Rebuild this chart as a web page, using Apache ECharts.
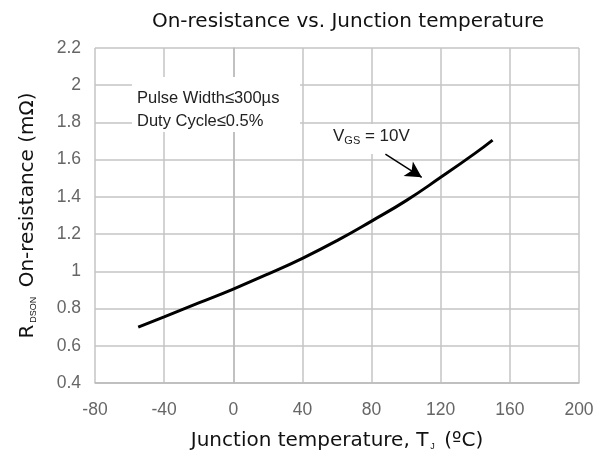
<!DOCTYPE html>
<html>
<head>
<meta charset="utf-8">
<script src="https://cdn.jsdelivr.net/npm/echarts@6/dist/echarts.min.js"></script>
<style>html,body{margin:0;padding:0;background:#fff}#c{width:611px;height:457px}</style>
</head>
<body>
<div id="c"></div>
<script>
// Junction temperature (°C)
var temps = [-55, -40, -20, 0, 20, 40, 60, 80, 100, 120, 140, 150];
// R_DSON (mΩ) at VGS = 10V
var rdson = [0.70, 0.755, 0.83, 0.905, 0.985, 1.07, 1.165, 1.27, 1.38, 1.505, 1.635, 1.705];
// Arrow annotation (data coordinates): start, end
var arrowStart = [88, 1.63];
var arrowEnd = [109, 1.505];

var chart = echarts.init(document.getElementById('c'));
var font = 'Liberation Sans, Arial, sans-serif';
var wide = 'DejaVu Sans, Liberation Sans, sans-serif';
chart.setOption({
  animation: false,
  title: {
    text: 'On-resistance vs. Junction temperature',
    left: 343, top: 7, textAlign: 'center',
    textStyle: {fontFamily: wide, fontSize: 20, fontWeight: 'normal', color: '#111'}
  },
  grid: {left: 95, right: 32, top: 48, bottom: 74, containLabel: false},
  xAxis: {
    type: 'value', min: -80, max: 200, interval: 40,
    name: '{a|Junction temperature, T}{s|J}{a| (ºC)}',
    nameLocation: 'middle', nameGap: 48,
    nameTextStyle: {rich: {
      a: {fontFamily: wide, fontSize: 20, color: '#111'},
      s: {fontFamily: font, fontSize: 9, color: '#111', padding: [11, 3, 0, 2]}
    }},
    axisLine: {show: true, lineStyle: {color: '#bbb', width: 1.5}},
    axisTick: {show: false},
    splitLine: {show: true, lineStyle: {color: '#c4c4c4', width: 1.5}},
    axisLabel: {fontFamily: font, fontSize: 17.5, color: '#666', margin: 18}
  },
  yAxis: {
    type: 'value', min: 0.4, max: 2.2, interval: 0.2,
    name: '{a|R}{s|DSON}{a| On-resistance (mΩ)}',
    nameLocation: 'middle', nameGap: 57, nameRotate: 90,
    nameTextStyle: {rich: {
      a: {fontFamily: wide, fontSize: 20, color: '#111'},
      s: {fontFamily: font, fontSize: 9, color: '#111', padding: [11, 3, 0, 2]}
    }},
    axisLine: {show: true, lineStyle: {color: '#bbb', width: 1.5}},
    axisTick: {show: false},
    splitLine: {show: true, lineStyle: {color: '#c4c4c4', width: 1.5}},
    axisLabel: {fontFamily: font, fontSize: 17.5, color: '#666', margin: 14,
      formatter: function (v) { return String(Math.round(v * 10) / 10); }}
  },
  series: [{
    type: 'line',
    data: temps.map(function (t, i) { return [t, rdson[i]]; }),
    smooth: true, showSymbol: false,
    lineStyle: {color: '#000', width: 3},
    markLine: {
      silent: true, symbol: ['none', 'arrow'], symbolSize: [13, 16],
      label: {show: false},
      lineStyle: {color: '#000', width: 1.5, type: 'solid'},
      data: [[{coord: arrowStart}, {coord: arrowEnd}]]
    }
  }],
  graphic: [
    {type: 'rect', shape: {x: 132, y: 77, width: 168, height: 55}, style: {fill: '#fff'}, z: 5},
    {type: 'text', x: 137, y: 87, z: 6, style: {text: 'Pulse Width≤300µs\nDuty Cycle≤0.5%', fontFamily: font, fontSize: 16.5, lineHeight: 23, fill: '#222'}},
    {type: 'rect', shape: {x: 330, y: 124, width: 86, height: 30}, style: {fill: '#fff'}, z: 5},
    {type: 'text', x: 333, y: 126, z: 6, style: {
      text: '{a|V}{s|GS}{a| = 10V}',
      rich: {
        a: {fontFamily: font, fontSize: 17, fill: '#222'},
        s: {fontFamily: font, fontSize: 11, fill: '#222', padding: [9, 0, 0, 0]}
      }}}
  ]
});
</script>
</body>
</html>
